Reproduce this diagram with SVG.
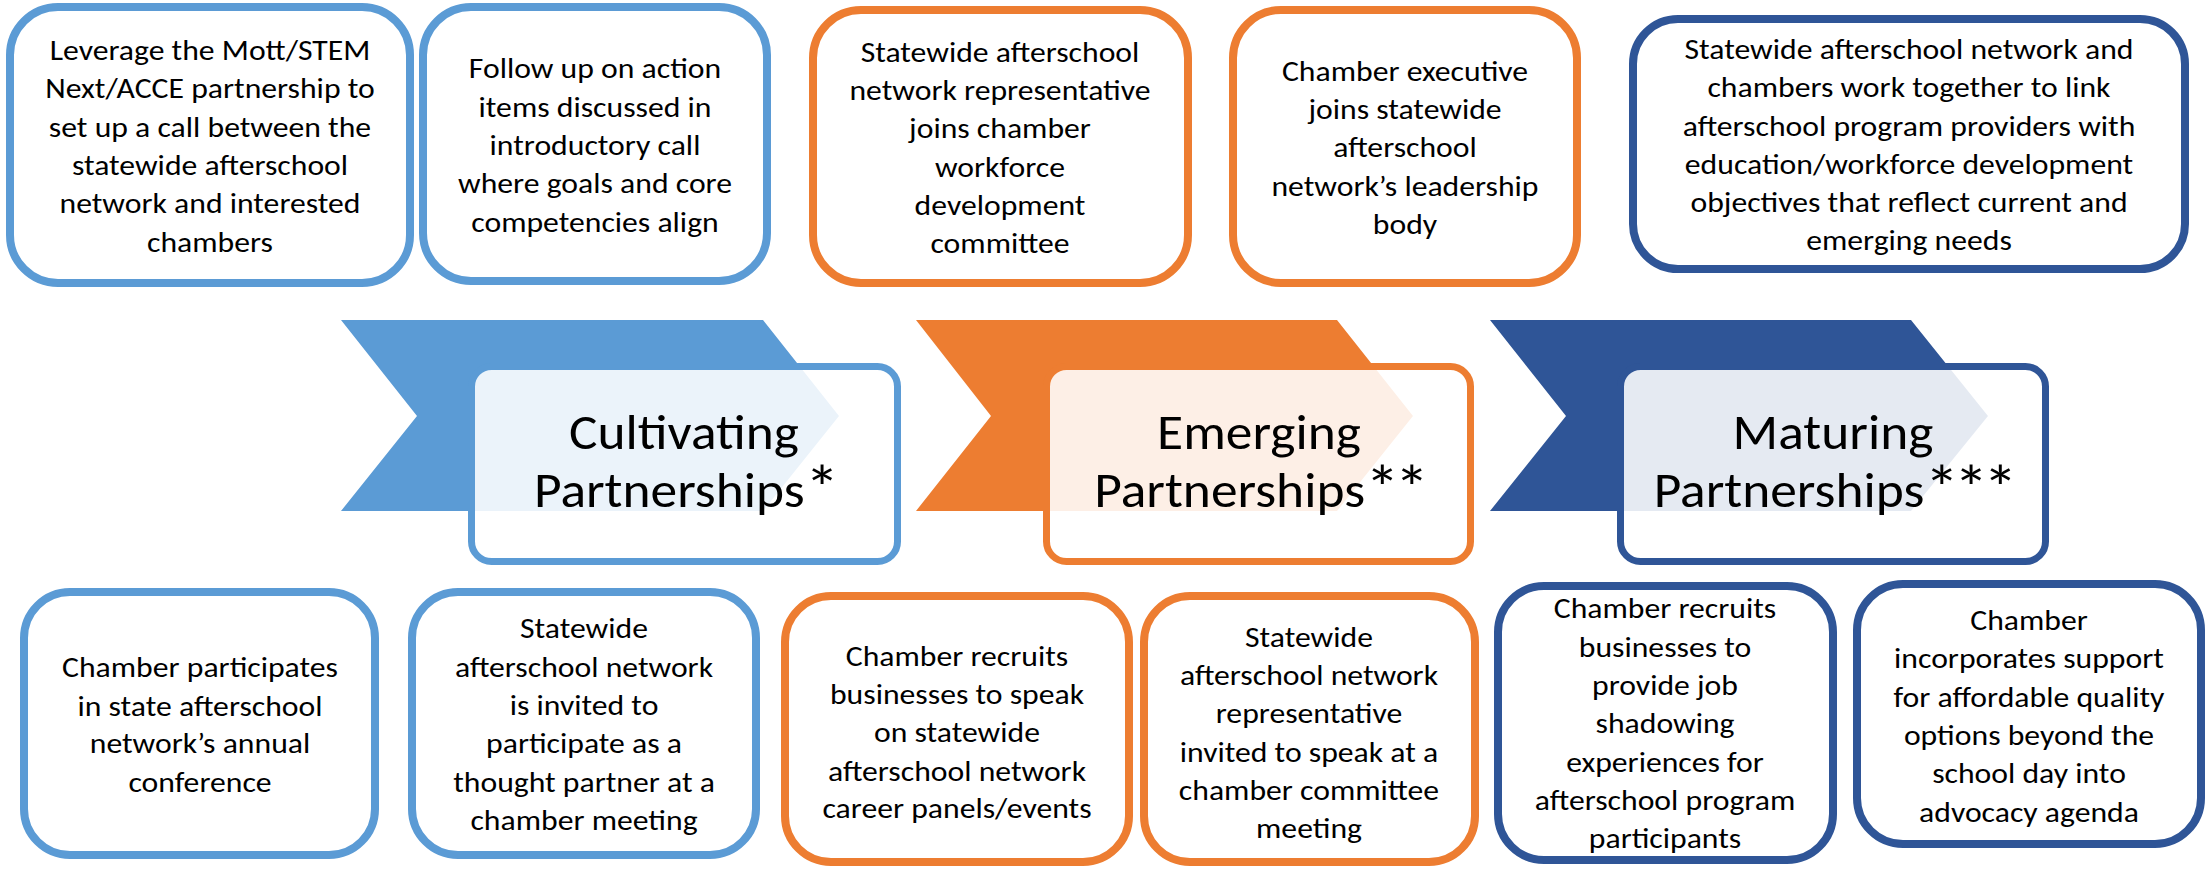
<svg xmlns="http://www.w3.org/2000/svg" width="2207" height="869" viewBox="0 0 2207 869">
<style>
  text { font-family: Carlito, Lato, "Liberation Sans", sans-serif; fill: #000; text-anchor: middle; }
  .t { font-size: 29.5px; }
  .big { font-size: 49px; }
  .ast { font-size: 64px; letter-spacing: -5px; }
  .box { fill: #fff; stroke-width: 8; }
  .lb { stroke: #5B9BD5; }
  .or { stroke: #ED7D31; }
  .db { stroke: #2F5597; }
  .lbf { fill: #5B9BD5; }
  .orf { fill: #ED7D31; }
  .dbf { fill: #2F5597; }
  .stage { fill: #fff; fill-opacity: 0.88; stroke-width: 7; }
</style>
<rect width="2207" height="869" fill="#fff"/>

<!-- Top row -->
<g id="top1">
  <rect class="box lb" x="10" y="7" width="400" height="276" rx="48"/>
  <g transform="translate(210 0) scale(1.075 1)"><text class="t"><tspan x="0" y="60">Leverage the Mott/STEM</tspan><tspan x="0" y="98">Next/ACCE partnership to</tspan><tspan x="0" y="137">set up a call between the</tspan><tspan x="0" y="175">statewide afterschool</tspan><tspan x="0" y="213">network and interested</tspan><tspan x="0" y="252">chambers</tspan></text></g>
</g>
<g id="top2">
  <rect class="box lb" x="423" y="7" width="344" height="274" rx="48"/>
  <g transform="translate(595 0) scale(1.075 1)"><text class="t"><tspan x="0" y="78">Follow up on action</tspan><tspan x="0" y="117">items discussed in</tspan><tspan x="0" y="155">introductory call</tspan><tspan x="0" y="193">where goals and core</tspan><tspan x="0" y="232">competencies align</tspan></text></g>
</g>
<g id="top3">
  <rect class="box or" x="813" y="10" width="375" height="273" rx="48"/>
  <g transform="translate(1000 0) scale(1.075 1)"><text class="t"><tspan x="0" y="62">Statewide afterschool</tspan><tspan x="0" y="100">network representative</tspan><tspan x="0" y="138">joins chamber</tspan><tspan x="0" y="177">workforce</tspan><tspan x="0" y="215">development</tspan><tspan x="0" y="253">committee</tspan></text></g>
</g>
<g id="top4">
  <rect class="box or" x="1233" y="10" width="344" height="273" rx="48"/>
  <g transform="translate(1405 0) scale(1.075 1)"><text class="t"><tspan x="0" y="81">Chamber executive</tspan><tspan x="0" y="119">joins statewide</tspan><tspan x="0" y="157">afterschool</tspan><tspan x="0" y="196">network’s leadership</tspan><tspan x="0" y="234">body</tspan></text></g>
</g>
<g id="top5">
  <rect class="box db" x="1633" y="19" width="552" height="250" rx="45"/>
  <g transform="translate(1909 0) scale(1.075 1)"><text class="t"><tspan x="0" y="59">Statewide afterschool network and</tspan><tspan x="0" y="97">chambers work together to link</tspan><tspan x="0" y="136">afterschool program providers with</tspan><tspan x="0" y="174">education/workforce development</tspan><tspan x="0" y="212">objectives that reflect current and</tspan><tspan x="0" y="250">emerging needs</tspan></text></g>
</g>

<!-- Stages -->
<g id="stage1">
  <polygon class="lbf" points="341,320 763,320 839,416 763,511 341,511 417,416"/>
  <rect class="stage lb" x="471.5" y="366.5" width="426" height="195" rx="20"/>
  <g transform="translate(684 0) scale(1.09 1)"><text class="big"><tspan x="0" y="449">Cultivating</tspan><tspan x="0" y="507">Partnerships<tspan class="ast" dy="3">*</tspan></tspan></text></g>
</g>
<g id="stage2">
  <polygon class="orf" points="916,320 1337,320 1413,416 1337,511 916,511 991,416"/>
  <rect class="stage or" x="1046.5" y="366.5" width="424" height="195" rx="20"/>
  <g transform="translate(1259 0) scale(1.09 1)"><text class="big"><tspan x="0" y="449">Emerging</tspan><tspan x="0" y="507">Partnerships<tspan class="ast" dy="3">**</tspan></tspan></text></g>
</g>
<g id="stage3">
  <polygon class="dbf" points="1490,320 1911,320 1988,416 1911,511 1490,511 1566,416"/>
  <rect class="stage db" x="1620.5" y="366.5" width="425" height="195" rx="20"/>
  <g transform="translate(1833 0) scale(1.09 1)"><text class="big"><tspan x="0" y="449">Maturing</tspan><tspan x="0" y="507">Partnerships<tspan class="ast" dy="3">***</tspan></tspan></text></g>
</g>

<!-- Bottom row -->
<g id="bot1">
  <rect class="box lb" x="24" y="592" width="351" height="263" rx="46"/>
  <g transform="translate(200 0) scale(1.075 1)"><text class="t"><tspan x="0" y="677">Chamber participates</tspan><tspan x="0" y="716">in state afterschool</tspan><tspan x="0" y="753">network’s annual</tspan><tspan x="0" y="792">conference</tspan></text></g>
</g>
<g id="bot2">
  <rect class="box lb" x="412" y="592" width="344" height="263" rx="46"/>
  <g transform="translate(584 0) scale(1.075 1)"><text class="t"><tspan x="0" y="638">Statewide</tspan><tspan x="0" y="677">afterschool network</tspan><tspan x="0" y="715">is invited to</tspan><tspan x="0" y="753">participate as a</tspan><tspan x="0" y="792">thought partner at a</tspan><tspan x="0" y="830">chamber meeting</tspan></text></g>
</g>
<g id="bot3">
  <rect class="box or" x="785" y="596" width="344" height="266" rx="46"/>
  <g transform="translate(957 0) scale(1.075 1)"><text class="t"><tspan x="0" y="666">Chamber recruits</tspan><tspan x="0" y="704">businesses to speak</tspan><tspan x="0" y="742">on statewide</tspan><tspan x="0" y="781">afterschool network</tspan><tspan x="0" y="818">career panels/events</tspan></text></g>
</g>
<g id="bot4">
  <rect class="box or" x="1144" y="596" width="331" height="266" rx="46"/>
  <g transform="translate(1309 0) scale(1.075 1)"><text class="t"><tspan x="0" y="647">Statewide</tspan><tspan x="0" y="685">afterschool network</tspan><tspan x="0" y="723">representative</tspan><tspan x="0" y="762">invited to speak at a</tspan><tspan x="0" y="800">chamber committee</tspan><tspan x="0" y="838">meeting</tspan></text></g>
</g>
<g id="bot5">
  <rect class="box db" x="1498" y="586" width="335" height="274" rx="46"/>
  <g transform="translate(1665 0) scale(1.075 1)"><text class="t"><tspan x="0" y="618">Chamber recruits</tspan><tspan x="0" y="657">businesses to</tspan><tspan x="0" y="695">provide job</tspan><tspan x="0" y="733">shadowing</tspan><tspan x="0" y="772">experiences for</tspan><tspan x="0" y="810">afterschool program</tspan><tspan x="0" y="848">participants</tspan></text></g>
</g>
<g id="bot6">
  <rect class="box db" x="1857" y="584" width="344" height="260" rx="46"/>
  <g transform="translate(2029 0) scale(1.075 1)"><text class="t"><tspan x="0" y="630">Chamber</tspan><tspan x="0" y="668">incorporates support</tspan><tspan x="0" y="707">for affordable quality</tspan><tspan x="0" y="745">options beyond the</tspan><tspan x="0" y="783">school day into</tspan><tspan x="0" y="822">advocacy agenda</tspan></text></g>
</g>

<g id="connectors"></g>
</svg>
